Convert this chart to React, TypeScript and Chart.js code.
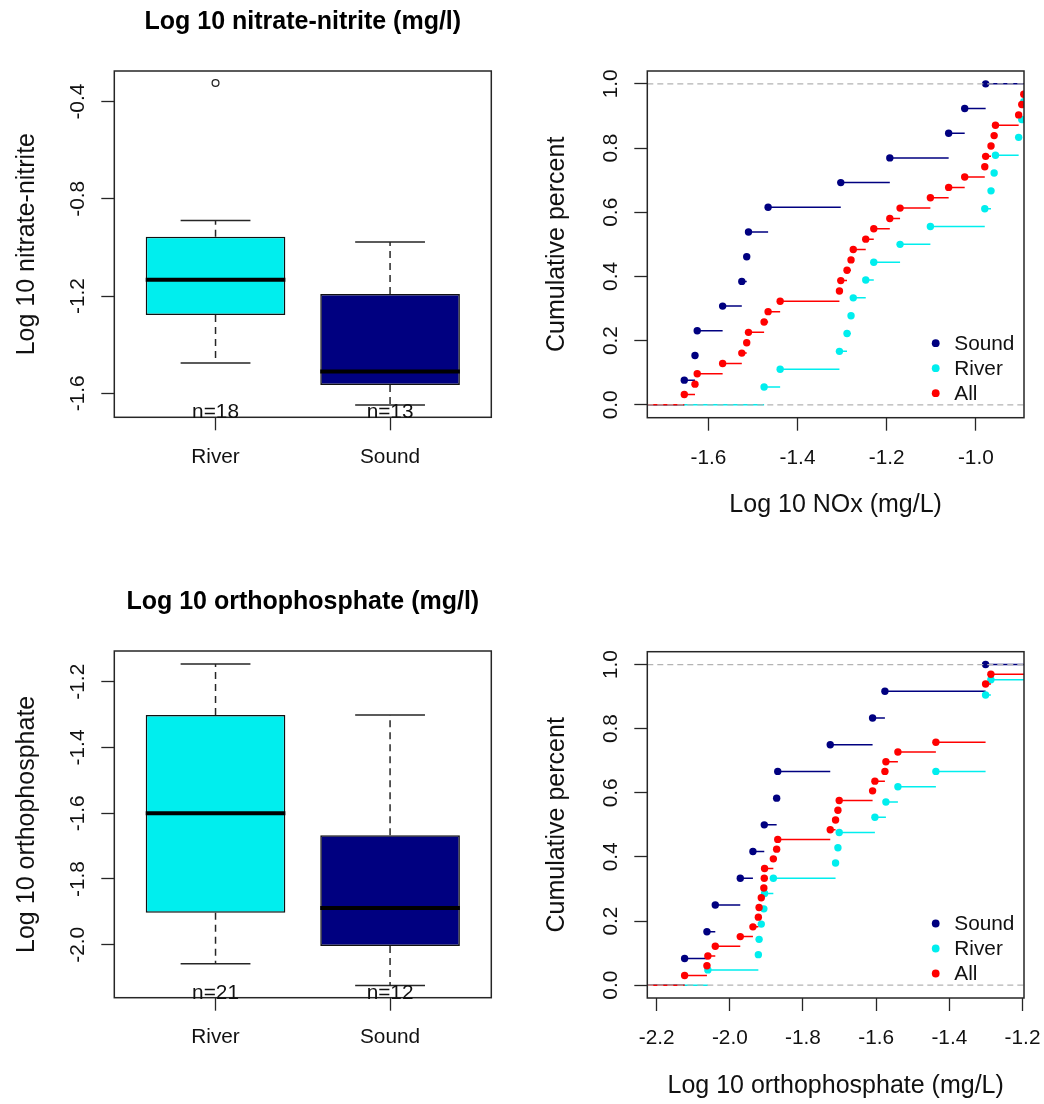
import React, { useEffect, useRef } from "react";
import { Chart, registerables } from "chart.js";

Chart.register(...registerables);

const FONT = "'Liberation Sans', Arial, Helvetica, sans-serif";
const INK = "#111111";
const LINE = "#262626";

// ---------------- Box plot data ----------------
const boxGroups = ["River", "Sound"];
const boxColors = ["#00EEEE", "#000080"];

const noxLow = [-1.475, -1.648];
const noxQ1 = [-1.278, -1.566];
const noxMid = [-1.133, -1.51];
const noxQ3 = [-0.956, -1.192];
const noxHigh = [-0.889, -0.977];
const noxOutliers = [-0.323];
const noxOutlierGroup = [1];
const noxCounts = [18, 13];
const noxBoxTicks = [-1.6, -1.2, -0.8, -0.4];

const poLow = [-2.058, -2.124];
const poQ1 = [-1.903, -2.004];
const poMid = [-1.6, -1.888];
const poQ3 = [-1.301, -1.667];
const poHigh = [-1.146, -1.301];
const poOutliers: number[] = [];
const poOutlierGroup: number[] = [];
const poCounts = [21, 12];
const poBoxTicks = [-2.0, -1.8, -1.6, -1.4, -1.2];

// ---------------- ECDF data ----------------
const ecdfNames = ["Sound", "River", "All"];
const ecdfColors = ["#000080", "#00EEEE", "#FF0000"];
const cumTicks = [0, 0.2, 0.4, 0.6, 0.8, 1.0];

const noxSound = [-1.654, -1.63, -1.625, -1.568, -1.525, -1.514, -1.51, -1.466, -1.303, -1.193, -1.061, -1.025, -0.978];
const noxRiver = [-1.475, -1.439, -1.306, -1.289, -1.28, -1.275, -1.247, -1.229, -1.17, -1.102, -0.98, -0.966, -0.959, -0.956, -0.904, -0.897, -0.8925, -0.323];
const noxAll = [-1.654, -1.63, -1.625, -1.568, -1.525, -1.514, -1.51, -1.475, -1.466, -1.439, -1.306, -1.303, -1.289, -1.28, -1.275, -1.247, -1.229, -1.193, -1.17, -1.102, -1.061, -1.025, -0.98, -0.978, -0.966, -0.959, -0.956, -0.904, -0.897, -0.8925, -0.323];
const noxXTicks = [-1.6, -1.4, -1.2, -1.0];

const poSound = [-2.1235, -2.0625, -2.0397, -1.9714, -1.9368, -1.9058, -1.872, -1.869, -1.7255, -1.6098, -1.5761, -1.301];
const poRiver = [-2.06, -1.922, -1.92, -1.914, -1.907, -1.905, -1.881, -1.711, -1.7045, -1.701, -1.6035, -1.5734, -1.5406, -1.4368, -1.301, -1.301, -1.301, -1.301, -1.301, -1.2865, -1.146];
const poAll = [-2.1235, -2.0625, -2.06, -2.0397, -1.9714, -1.9368, -1.922, -1.92, -1.914, -1.907, -1.9058, -1.905, -1.881, -1.872, -1.869, -1.7255, -1.711, -1.7045, -1.701, -1.6098, -1.6035, -1.5761, -1.5734, -1.5406, -1.4368, -1.301, -1.301, -1.301, -1.301, -1.301, -1.301, -1.2865, -1.146];
const poXTicks = [-2.2, -2.0, -1.8, -1.6, -1.4, -1.2];

// ---------------- helpers ----------------
const fmt1 = (v: number) => (Math.abs(v) < 1e-9 ? 0 : v).toFixed(1);

type Geo = {
  W: number; H: number;
  left: number; right: number; top: number; bottom: number;
  xH: number;
  xTickPad: number; yTickPad: number; yTitlePad: number;
  titlePadTop?: number;
};

const framePlugin = {
  id: "frame",
  afterDatasetsDraw(chart: any) {
    const { ctx, chartArea: a } = chart;
    ctx.save();
    ctx.strokeStyle = LINE;
    ctx.lineWidth = 1.5;
    ctx.strokeRect(a.left, a.top, a.right - a.left, a.bottom - a.top);
    ctx.restore();
  },
};

function tickFont() {
  return { family: FONT, size: 20.8 };
}

function baseScales(geo: Geo, xOpts: any, yOpts: any, yTitle: string, xTitle?: string) {
  return {
    x: {
      type: "linear",
      offset: false,
      bounds: "data",
      min: xOpts.min,
      max: xOpts.max,
      afterBuildTicks: (s: any) => {
        s.ticks = xOpts.ticks.map((v: number) => ({ value: v }));
      },
      afterFit: (s: any) => {
        s.height = geo.xH;
        s.paddingLeft = 0;
        s.paddingRight = 0;
      },
      grid: { display: true, drawOnChartArea: false, drawTicks: true, tickLength: 13, tickColor: LINE, tickWidth: 1.3, offset: false },
      border: { display: false },
      ticks: {
        autoSkip: false, maxRotation: 0, minRotation: 0, padding: geo.xTickPad,
        color: INK, font: tickFont(), callback: xOpts.label,
      },
      title: xTitle
        ? { display: true, text: xTitle, color: INK, font: { family: FONT, size: 25 }, padding: { top: 0, bottom: 0 } }
        : { display: false },
    },
    y: {
      type: "linear",
      beginAtZero: false,
      bounds: "data",
      min: yOpts.min,
      max: yOpts.max,
      afterBuildTicks: (s: any) => {
        s.ticks = yOpts.ticks.map((v: number) => ({ value: v }));
      },
      afterFit: (s: any) => {
        s.width = geo.left;
        s.paddingTop = 0;
        s.paddingBottom = 0;
      },
      grid: { display: true, drawOnChartArea: false, drawTicks: true, tickLength: 13, tickColor: LINE, tickWidth: 1.3 },
      border: { display: false },
      ticks: {
        autoSkip: false, minRotation: 90, maxRotation: 90, crossAlign: "center",
        padding: geo.yTickPad, color: INK, font: tickFont(), callback: (v: any) => fmt1(Number(v)),
      },
      title: { display: true, text: yTitle, color: INK, font: { family: FONT, size: 25 }, padding: { top: geo.yTitlePad, bottom: 0 } },
    },
  };
}

function boxConfig(p: any) {
  const geo: Geo = p.geo;
  const xs = boxGroups.map((_, i) => i + 1);
  const boxData = xs.map((x, i) => ({ x, y: [p.q1[i], p.q3[i]] }));
  const medianData: any[] = [];
  const whiskerData: any[] = [];
  const capData: any[] = [];
  xs.forEach((x, i) => {
    medianData.push({ x: x - 0.4, y: p.mid[i] }, { x: x + 0.4, y: p.mid[i] }, { x: x + 0.4, y: null });
    whiskerData.push(
      { x, y: p.q3[i] }, { x, y: p.high[i] }, { x, y: null },
      { x, y: p.q1[i] }, { x, y: p.low[i] }, { x, y: null }
    );
    capData.push(
      { x: x - 0.2, y: p.high[i] }, { x: x + 0.2, y: p.high[i] }, { x: x + 0.2, y: null },
      { x: x - 0.2, y: p.low[i] }, { x: x + 0.2, y: p.low[i] }, { x: x + 0.2, y: null }
    );
  });
  const outData = p.outliers.map((v: number, k: number) => ({ x: p.outGroup[k], y: v }));

  const countPlugin = {
    id: "counts",
    afterDraw(chart: any) {
      const { ctx, chartArea: a, scales } = chart;
      ctx.save();
      ctx.fillStyle = INK;
      ctx.font = `20.8px ${FONT}`;
      ctx.textAlign = "center";
      ctx.textBaseline = "alphabetic";
      xs.forEach((x, i) => {
        ctx.fillText("n=" + p.counts[i], scales.x.getPixelForValue(x), a.bottom + 1);
      });
      ctx.restore();
    },
  };

  const tTop = geo.titlePadTop ?? 0;
  return {
    type: "bar",
    data: {
      datasets: [
        { type: "line", data: medianData, borderColor: "#000", borderWidth: 4, pointRadius: 0, borderCapStyle: "butt" },
        { type: "line", data: outData, showLine: false, pointRadius: 3.4, pointBackgroundColor: "rgba(0,0,0,0)", pointBorderColor: LINE, pointBorderWidth: 1.3 },
        { type: "line", data: whiskerData, borderColor: LINE, borderWidth: 1.5, borderDash: [7, 5], pointRadius: 0 },
        { type: "line", data: capData, borderColor: LINE, borderWidth: 1.5, pointRadius: 0 },
        {
          type: "bar", data: boxData, backgroundColor: boxColors, borderColor: "#111", borderWidth: 1.5,
          borderSkipped: false, categoryPercentage: 1, barPercentage: 0.8,
        },
      ],
    },
    options: {
      responsive: false,
      animation: false,
      events: [],
      layout: {
        autoPadding: false,
        padding: { left: 0, top: 0, right: geo.W - geo.right, bottom: geo.H - geo.bottom - geo.xH },
      },
      plugins: {
        legend: { display: false },
        tooltip: { enabled: false },
        title: {
          display: true, text: p.title, fullSize: false, color: "#000",
          font: { family: FONT, size: 25, weight: "bold" },
          padding: { top: tTop, bottom: geo.top - tTop - 30 },
        },
      },
      scales: baseScales(
        geo,
        { min: 0.42, max: 2.58, ticks: xs, label: (v: any) => boxGroups[Math.round(Number(v)) - 1] ?? "" },
        { min: p.yMin, max: p.yMax, ticks: p.yTicks },
        p.ylabel
      ),
    },
    plugins: [framePlugin, countPlugin],
  };
}

function ecdfPoints(values: number[]) {
  const s = [...values].sort((a, b) => a - b);
  const n = s.length;
  const pts: { x: number; y: number }[] = [];
  for (let i = 0; i < n; i++) {
    if (i < n - 1 && s[i + 1] === s[i]) continue;
    pts.push({ x: s[i], y: (i + 1) / n });
  }
  return pts;
}

function ecdfSegments(pts: { x: number; y: number }[], xMin: number, xMax: number) {
  const segs: any[] = [{ x: xMin, y: 0 }, { x: pts[0].x, y: 0 }, { x: pts[0].x, y: null }];
  for (let i = 0; i < pts.length; i++) {
    const x2 = i < pts.length - 1 ? pts[i + 1].x : Math.max(xMax, pts[i].x);
    segs.push({ x: pts[i].x, y: pts[i].y }, { x: x2, y: pts[i].y }, { x: x2, y: null });
  }
  return segs;
}

function ecdfConfig(p: any) {
  const geo: Geo = p.geo;
  const datasets: any[] = [
    {
      type: "line",
      data: [{ x: p.xMin, y: 0 }, { x: p.xMax, y: 0 }, { x: p.xMax, y: null }, { x: p.xMin, y: 1 }, { x: p.xMax, y: 1 }],
      borderColor: "#B3B3B3", borderWidth: 1.3, borderDash: [6, 4], pointRadius: 0, clip: 0,
    },
  ];
  for (let k = p.series.length - 1; k >= 0; k--) {
    const pts = ecdfPoints(p.series[k]);
    datasets.push({
      type: "line", data: pts, showLine: false, pointRadius: 3.7, pointBorderWidth: 0,
      pointBackgroundColor: ecdfColors[k], clip: 0,
    });
    datasets.push({
      type: "line", data: ecdfSegments(pts, p.xMin, p.xMax), borderColor: ecdfColors[k],
      borderWidth: 1.5, pointRadius: 0, clip: 0, spanGaps: false,
    });
  }

  const legendPlugin = {
    id: "cornerLegend",
    afterDraw(chart: any) {
      const { ctx, chartArea: a } = chart;
      ctx.save();
      ctx.font = `20.8px ${FONT}`;
      ctx.textAlign = "left";
      ctx.textBaseline = "middle";
      ecdfNames.forEach((name, i) => {
        const y = a.bottom - 74.5 + 25 * i;
        ctx.fillStyle = ecdfColors[i];
        ctx.beginPath();
        ctx.arc(a.right - 88.3, y, 3.9, 0, Math.PI * 2);
        ctx.fill();
        ctx.fillStyle = INK;
        ctx.fillText(name, a.right - 69.7, y + 1);
      });
      ctx.restore();
    },
  };

  return {
    type: "line",
    data: { datasets },
    options: {
      responsive: false,
      animation: false,
      events: [],
      layout: {
        autoPadding: false,
        padding: { left: 0, top: geo.top, right: geo.W - geo.right, bottom: geo.H - geo.bottom - geo.xH },
      },
      plugins: { legend: { display: false }, tooltip: { enabled: false }, title: { display: false } },
      scales: baseScales(
        geo,
        { min: p.xMin, max: p.xMax, ticks: p.xTicks, label: (v: any) => fmt1(Number(v)) },
        { min: -0.04, max: 1.04, ticks: cumTicks },
        "Cumulative percent",
        p.xlabel
      ),
    },
    plugins: [framePlugin, legendPlugin],
  };
}

// ---------------- panels ----------------
const PW = 522;
const PH = 552;

function Panel({ left, top, make }: { left: number; top: number; make: () => any }) {
  const ref = useRef<HTMLCanvasElement>(null);
  useEffect(() => {
    const chart = new Chart(ref.current as HTMLCanvasElement, make());
    return () => chart.destroy();
  }, []);
  return (
    <canvas
      ref={ref}
      width={PW}
      height={PH}
      style={{ position: "absolute", left, top, width: PW, height: PH }}
    />
  );
}

const makeNoxBox = () =>
  boxConfig({
    title: "Log 10 nitrate-nitrite (mg/l)",
    ylabel: "Log 10 nitrate-nitrite",
    low: noxLow, q1: noxQ1, mid: noxMid, q3: noxQ3, high: noxHigh,
    outliers: noxOutliers, outGroup: noxOutlierGroup, counts: noxCounts,
    yTicks: noxBoxTicks, yMin: -1.699, yMax: -0.2737,
    geo: { W: PW, H: PH, left: 114.3, right: 491.3, top: 71, bottom: 417.3, xH: 60, xTickPad: 14.2, yTickPad: 5.4, yTitlePad: 11.7, titlePadTop: 6.7 },
  });

const makePoBox = () =>
  boxConfig({
    title: "Log 10 orthophosphate (mg/l)",
    ylabel: "Log 10 orthophosphate",
    low: poLow, q1: poQ1, mid: poMid, q3: poQ3, high: poHigh,
    outliers: poOutliers, outGroup: poOutlierGroup, counts: poCounts,
    yTicks: poBoxTicks, yMin: -2.161, yMax: -1.1066,
    geo: { W: PW, H: PH, left: 114.3, right: 491.3, top: 99, bottom: 445.7, xH: 60, xTickPad: 14.1, yTickPad: 5.4, yTitlePad: 11.7, titlePadTop: 34.7 },
  });

const makeNoxEcdf = () =>
  ecdfConfig({
    series: [noxSound, noxRiver, noxAll],
    xMin: -1.737, xMax: -0.892, xTicks: noxXTicks,
    xlabel: "Log 10 NOx (mg/L)",
    geo: { W: PW, H: PH, left: 125.3, right: 502, top: 71, bottom: 417.7, xH: 102.3, xTickPad: 15.1, yTickPad: 8.1, yTitlePad: 19.7 },
  });

const makePoEcdf = () =>
  ecdfConfig({
    series: [poSound, poRiver, poAll],
    xMin: -2.2255, xMax: -1.196, xTicks: poXTicks,
    xlabel: "Log 10 orthophosphate (mg/L)",
    geo: { W: PW, H: PH, left: 125.3, right: 502, top: 99.7, bottom: 446, xH: 103, xTickPad: 14.8, yTickPad: 8.1, yTitlePad: 19.7 },
  });

export default function App() {
  return (
    <div style={{ position: "absolute", left: 0, top: 0, width: 1044, height: 1104, background: "#fff", overflow: "hidden" }}>
      <Panel left={0} top={0} make={makeNoxBox} />
      <Panel left={PW} top={0} make={makeNoxEcdf} />
      <Panel left={0} top={PH} make={makePoBox} />
      <Panel left={PW} top={PH} make={makePoEcdf} />
    </div>
  );
}
